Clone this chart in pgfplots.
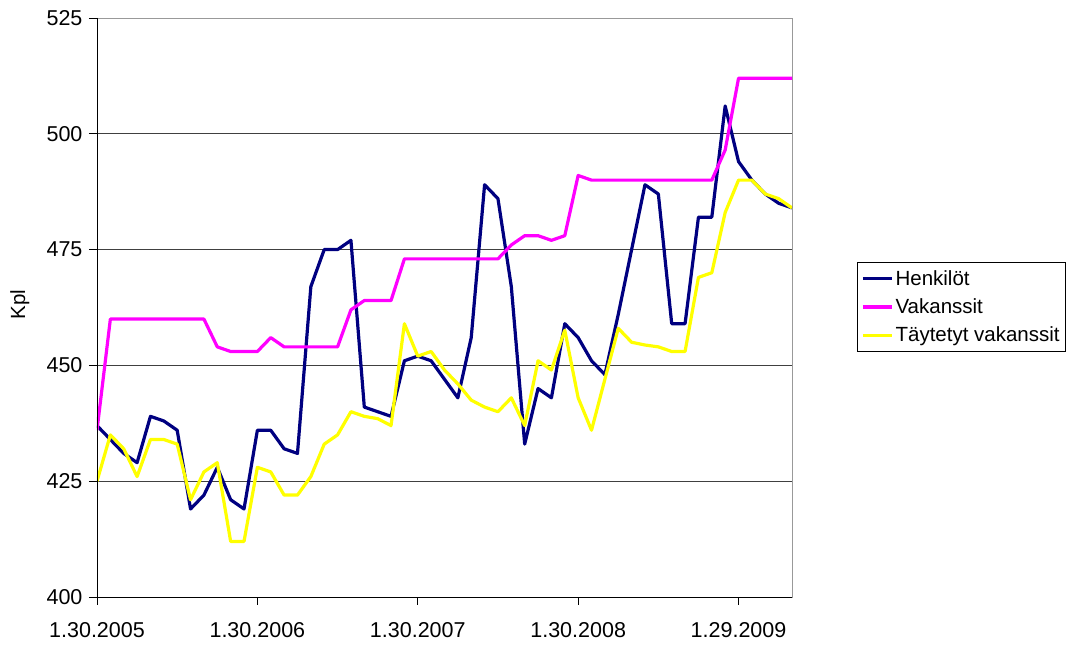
\documentclass[border=0pt]{standalone}
\usepackage{fontspec}
\setmainfont{Liberation Sans}
\usepackage{pgfplots}
\usepackage{pgfplotstable}
\pgfplotsset{compat=1.18}

\definecolor{henk}{RGB}{0,0,128}
\definecolor{vak}{RGB}{255,0,255}
\definecolor{tayt}{RGB}{255,255,0}

% i = month index from 1.30.2005
\pgfplotstableread{
i H V T
0 437 436 425
1 434 460 435
2 431 460 432
3 429 460 426
4 439 460 434
5 438 460 434
6 436 460 433
7 419 460 421
8 422 460 427
9 428 454 429
10 421 453 412
11 419 453 412
12 436 453 428
13 436 456 427
14 432 454 422
15 431 454 422
16 467 454 426
17 475 454 433
18 475 454 435
19 477 462 440
20 441 464 439
21 440 464 438.5
22 439 464 437
23 451 473 459
24 452 473 452
25 451 473 453
26 447 473 449
27 443 473 446
28 456 473 442.5
29 489 473 441
30 486 473 440
31 467 476 443
32 433 478 437
33 445 478 451
34 443 477 449
35 459 478 457.6
36 456 491 443
37 451 490 436
38 448 490 447
39 461 490 458
40 475 490 455
41 489 490 454.4
42 487 490 454
43 459 490 453
44 459 490 453
45 482 490 469
46 482 490 470
47 506 496.5 483
48 494 512 490
49 490 512 490
50 487 512 487
51 485 512 486
52 484 512 484
}\datatable

\begin{document}
\begin{tikzpicture}
\useasboundingbox (-97pt,-48pt) rectangle (972pt,597pt);
\begin{axis}[
    at={(0,0)}, anchor=south west,
    scale only axis,
    width=695pt, height=579pt,
    xmin=0, xmax=52, ymin=400, ymax=525,
    xtick={0,12,24,36,48},
    xticklabels={1.30.2005,1.30.2006,1.30.2007,1.30.2008,1.29.2009},
    ytick={400,425,...,525},
    /pgf/number format/assume math mode=true,
    ticklabel style={font=\fontsize{21.5}{25}\selectfont},
    xticklabel style={yshift=-14pt},
    yticklabel style={xshift=-3pt},
    tick align=outside, tick pos=left,
    major tick length=8pt,
    tick style={black, line width=0.9pt},
    ymajorgrids,
    grid style={black!75, line width=0.9pt},
    axis line style={gray!80, line width=0.9pt},
    ylabel={Kpl},
    ylabel style={at={(axis description cs:-0.111,0.505)}, anchor=center,
        font=\fontsize{20.5}{24}\selectfont},
    legend style={at={(axis description cs:1.0935,0.5786)}, anchor=north west,
        draw=black, line width=0.8pt, inner xsep=4pt, inner ysep=6pt,
        row sep=8pt,
        font=\fontsize{20.5}{24}\selectfont},
    legend cell align=left,
    legend image code/.code={\draw[#1] (0pt,0pt) -- (29pt,0pt);},
    every axis plot/.append style={line width=3.2pt, line join=round},
    after end axis/.code={
        \draw[black, line width=0.9pt] (rel axis cs:0,1) -- (rel axis cs:0,0) -- (rel axis cs:1,0);
    },
]
\addplot[henk] table[x=i, y=H] {\datatable};
\addplot[vak] table[x=i, y=V] {\datatable};
\addplot[tayt] table[x=i, y=T] {\datatable};
\legend{Henkilöt, Vakanssit, Täytetyt vakanssit}
\end{axis}
\end{tikzpicture}
\end{document}
